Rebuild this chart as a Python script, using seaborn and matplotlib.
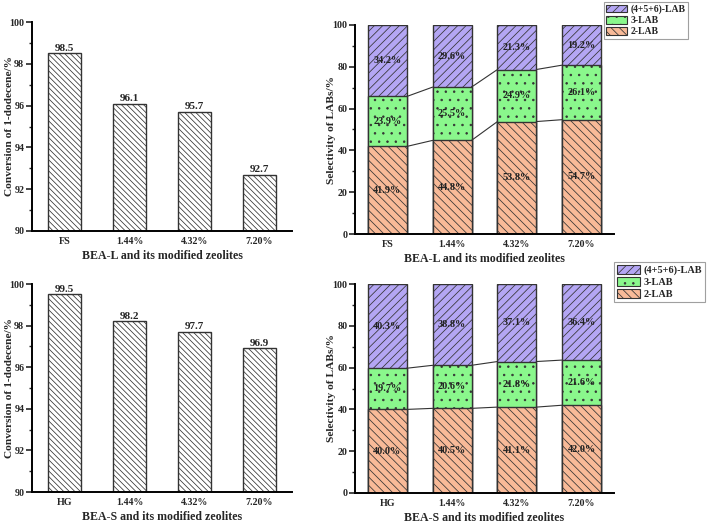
import numpy as np
import pandas as pd
import matplotlib
matplotlib.use("Agg")
import matplotlib.pyplot as plt
import seaborn as sns
from matplotlib.patches import Patch
from matplotlib.ticker import MultipleLocator

# ---------------- data ----------------
cats_L = ["FS", "1.44%", "4.32%", "7.20%"]
cats_S = ["HG", "1.44%", "4.32%", "7.20%"]
conv_L = [98.5, 96.1, 95.7, 92.7]
conv_S = [99.5, 98.2, 97.7, 96.9]

lab2_L = [41.9, 44.8, 53.8, 54.7]
lab3_L = [23.9, 25.5, 24.9, 26.1]
lab456_L = [34.2, 29.6, 21.3, 19.2]

lab2_S = [40.0, 40.5, 41.1, 42.0]
lab3_S = [19.7, 20.6, 21.8, 21.6]
lab456_S = [40.3, 38.8, 37.1, 36.4]

series_names = ["(4+5+6)-LAB", "3-LAB", "2-LAB"]
xlabel_L = "BEA-L and its modified zeolites"
xlabel_S = "BEA-S and its modified zeolites"
ylabel_conv = "Conversion of 1-dodecene/%"
ylabel_sel = "Selectivity of LABs/%"

# ---------------- style ----------------
sns.set_theme(style="ticks")
plt.rcParams["font.family"] = ["Liberation Serif", "DejaVu Serif"]
plt.rcParams["font.weight"] = "bold"
plt.rcParams["axes.labelweight"] = "bold"
plt.rcParams["hatch.linewidth"] = 0.55

C_PURPLE = "#B4A6F4"
C_GREEN = "#8AF78C"
C_ORANGE = "#F8BA98"
EDGE = "#333333"

TICK_FS = 7.2
XLABEL_FS = 8.6
YLABEL_FS = 8.2

fig = plt.figure(figsize=(7.09, 5.24), dpi=100)
W, H = 709, 524


def add_axes(x0, x1, ytop, ybot):
    return fig.add_axes([x0 / W, 1 - ybot / H, (x1 - x0) / W, (ybot - ytop) / H])


def style_axes(ax, major, minor):
    for s in ["top", "right"]:
        ax.spines[s].set_visible(False)
    for s in ["left", "bottom"]:
        ax.spines[s].set_linewidth(1.4)
        ax.spines[s].set_color("black")
    ax.yaxis.set_major_locator(MultipleLocator(major))
    ax.yaxis.set_minor_locator(MultipleLocator(minor))
    ax.tick_params(axis="y", which="major", direction="out", length=4, width=1.2,
                   labelsize=TICK_FS, pad=1.5)
    ax.tick_params(axis="y", which="minor", direction="out", length=2, width=1.0)
    ax.tick_params(axis="x", which="both", length=0, labelsize=TICK_FS, pad=4)
    for lab in ax.get_xticklabels() + ax.get_yticklabels():
        lab.set_fontweight("bold")


def place_labels(ax, xlabel, ylabel, ylab_x):
    ax.set_xlabel(xlabel, fontsize=XLABEL_FS, fontweight="bold")
    ax.set_ylabel(ylabel, fontsize=YLABEL_FS, fontweight="bold")
    ax.xaxis.set_label_coords(0.5, -0.09)
    ax.yaxis.set_label_coords(ylab_x, 0.5)


def conv_panel(ax, cats, vals, xlabel):
    df = pd.DataFrame({"cat": cats, "val": vals})
    sns.barplot(data=df, x="cat", y="val", order=cats, ax=ax, color="white",
                saturation=1, edgecolor=EDGE, linewidth=1.0, hatch="\\\\\\\\\\\\",
                width=0.5, errorbar=None)
    ax.set_ylim(90, 100)
    ax.set_xlim(-0.5, 3.5)
    for p, v in zip(ax.patches, vals):
        ax.text(p.get_x() + p.get_width() / 2, v + 0.04, f"{v:.1f}",
                ha="center", va="bottom", fontsize=8.0, fontweight="bold")
    place_labels(ax, xlabel, ylabel_conv, -0.069)
    style_axes(ax, 2, 1)


def sel_panel(ax, cats, s2, s3, s456, xlabel, leg_anchor, leg_fs, hl, hh):
    s2 = np.array(s2)
    s3 = np.array(s3)
    s456 = np.array(s456)
    cum2 = s2
    cum3 = s2 + s3
    cum4 = s2 + s3 + s456
    layers = [(cum4, C_PURPLE, "////"), (cum3, C_GREEN, ".."), (cum2, C_ORANGE, "\\\\\\\\")]
    bar_sets = []
    for heights, col, hat in layers:
        df = pd.DataFrame({"cat": cats, "val": heights})
        n0 = len(ax.patches)
        sns.barplot(data=df, x="cat", y="val", order=cats, ax=ax, color=col,
                    saturation=1, edgecolor=EDGE, linewidth=1.0, hatch=hat,
                    width=0.6, errorbar=None)
        bar_sets.append(ax.patches[n0:])
    ax.set_ylim(0, 100)
    ax.set_xlim(-0.5, 3.5)
    bars = bar_sets[0]
    for cum in (cum2, cum3):
        for i in range(len(cats) - 1):
            x0 = bars[i].get_x() + bars[i].get_width()
            x1 = bars[i + 1].get_x()
            ax.plot([x0, x1], [cum[i], cum[i + 1]], color=EDGE, lw=0.8, zorder=1)
    for i, p in enumerate(bars):
        xc = p.get_x() + p.get_width() / 2
        for bottom, val in ((0, s2[i]), (cum2[i], s3[i]), (cum3[i], s456[i])):
            ax.text(xc, bottom + val / 2, f"{val:.1f}%", ha="center", va="center",
                    fontsize=7.4, fontweight="bold", color="#222222")
    place_labels(ax, xlabel, ylabel_sel, -0.072)
    style_axes(ax, 20, 10)
    handles = [Patch(facecolor=c, edgecolor=EDGE, hatch=h, linewidth=0.8)
               for (_, c, h) in layers]
    leg = ax.legend(handles, series_names, loc="upper left",
                    bbox_to_anchor=leg_anchor, bbox_transform=fig.transFigure,
                    frameon=True, fancybox=False, edgecolor="#888888",
                    fontsize=leg_fs, handlelength=hl, handleheight=hh,
                    labelspacing=0.2, borderpad=0.25, handletextpad=0.35,
                    borderaxespad=0)
    leg.get_frame().set_linewidth(0.8)
    for t in leg.get_texts():
        t.set_fontweight("bold")


ax1 = add_axes(32, 292, 22, 231)
conv_panel(ax1, cats_L, conv_L, xlabel_L)
ax2 = add_axes(355, 614, 25, 234)
sel_panel(ax2, cats_L, lab2_L, lab3_L, lab456_L, xlabel_L,
          (604 / W, 1 - 2 / H), 7.0, 2.1, 0.85)
ax3 = add_axes(32, 292, 284, 492)
conv_panel(ax3, cats_S, conv_S, xlabel_S)
ax4 = add_axes(355, 614, 284, 493)
sel_panel(ax4, cats_S, lab2_S, lab3_S, lab456_S, xlabel_S,
          (614 / W, 1 - 262 / H), 7.4, 2.3, 1.0)

fig.savefig("out.png", dpi=100)
